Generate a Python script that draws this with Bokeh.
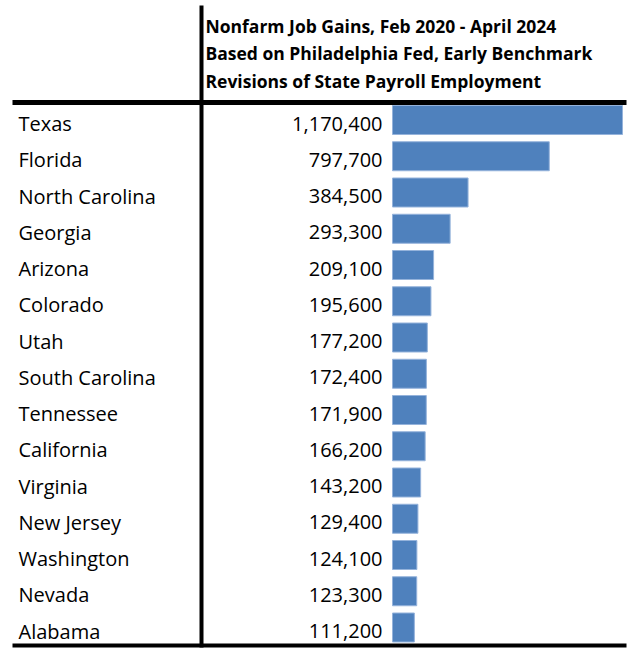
from bokeh.plotting import figure
from bokeh.models import Range1d, ColumnDataSource
from bokeh.core.properties import value
from bokeh.embed import file_html
from bokeh.resources import INLINE

states = ["Texas", "Florida", "North Carolina", "Georgia", "Arizona", "Colorado", "Utah",
          "South Carolina", "Tennessee", "California", "Virginia", "New Jersey",
          "Washington", "Nevada", "Alabama"]
gains = [1170400, 797700, 384500, 293300, 209100, 195600, 177200, 172400, 171900,
         166200, 143200, 129400, 124100, 123300, 111200]
title_lines = ["Nonfarm Job Gains, Feb 2020 - April 2024",
               "Based on Philadelphia Fed, Early Benchmark",
               "Revisions of State Payroll Employment"]

W, H = 636, 656
FONT = "Open Sans"

p = figure(width=W, height=H, output_backend="svg", toolbar_location=None,
           x_range=Range1d(0, W), y_range=Range1d(H, 0), min_border=0)
p.axis.visible = False
p.grid.visible = False
p.outline_line_color = None
p.background_fill_color = "white"
p.border_fill_color = "white"

# value scale for bars: 0 -> px 392, max -> px 622
px0, px1 = 392.0, 622.0
u = max(gains) / (px1 - px0)
p.extra_x_ranges = {"val": Range1d(-px0 * u, (W - px0) * u)}
# row scale for text: row 0 at px 123, spacing 36.25
r0, dr = 123.0, 36.25
p.extra_y_ranges = {"rows": Range1d((H - r0) / dr, -r0 / dr)}
# bars sit slightly above the text centre
b0 = 119.5
p.extra_y_ranges["bars"] = Range1d((H - b0) / dr, -b0 / dr)

src = ColumnDataSource(dict(
    idx=list(range(len(states))), state=states, gain=gains,
    label=[f"{g:,}" for g in gains], zero=[0] * len(gains)))

p.hbar(y="idx", left="zero", right="gain", height=29 / dr, source=src,
       x_range_name="val", y_range_name="bars",
       fill_color="#4F81BD", line_color="#95B3DB", line_width=1)

p.text(x=18, y="idx", text="state", source=src, y_range_name="rows",
       text_font=value(FONT), text_font_size="20px", text_align="left",
       text_baseline="middle", text_color="black")
p.text(x=382, y="idx", text="label", source=src, y_range_name="rows",
       text_font=value(FONT), text_font_size="20px", text_align="right",
       text_baseline="middle", text_color="black")

# header
t0, dt = 25.0, 27.5
tsrc = ColumnDataSource(dict(i=list(range(3)), t=title_lines))
p.extra_y_ranges["title"] = Range1d((H - t0) / dt, -t0 / dt)
p.text(x=205, y="i", text="t", source=tsrc, y_range_name="title",
       text_font=value(FONT), text_font_size="17.5px", text_font_style="bold",
       text_align="left", text_baseline="middle", text_color="black")

# table rules
p.segment(x0=[12], x1=[626], y0=[102], y1=[102], line_color="black", line_width=5)
p.segment(x0=[12], x1=[626], y0=[645], y1=[645], line_color="black", line_width=4)
p.segment(x0=[201], x1=[201], y0=[5], y1=[647], line_color="black", line_width=4)

open("out.html", "w").write(file_html(p, INLINE))
